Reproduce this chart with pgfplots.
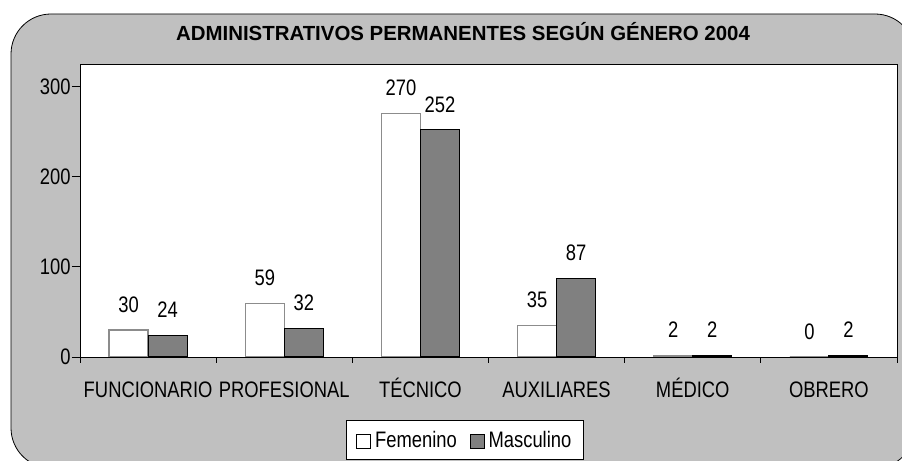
\documentclass[border=0pt]{standalone}
\usepackage{fontspec}
\setmainfont{Liberation Sans}
\newfontfamily\nf{Liberation Sans}[FakeStretch=0.82]
\usepackage{pgfplots}
\pgfplotsset{compat=1.18}
\definecolor{bggray}{HTML}{C0C0C0}
\definecolor{barM}{HTML}{808080}
\definecolor{edgeF}{HTML}{8C8C8C}
\newcommand{\cf}{\nf\fontsize{22.5}{26}\selectfont}
\begin{document}
\begin{tikzpicture}[x=1bp,y=1bp]
\useasboundingbox (0,0) rectangle (902,461);
\clip (0,0) rectangle (902,461);
\draw[black, line width=0.8bp, fill=bggray, rounded corners=40bp] (11,447) rectangle (915,-7);
\node[font=\fontsize{20.5}{24}\selectfont\bfseries, anchor=base] at (463,420) {ADMINISTRATIVOS PERMANENTES SEGÚN GÉNERO 2004};
\begin{axis}[
  at={(80bp,104bp)}, anchor=south west,
  scale only axis, width=817bp, height=293bp,
  axis background/.style={fill=white},
  axis line style={black, line width=0.8bp},
  ymin=0, ymax=325, xmin=-0.5, xmax=5.5,
  ybar=0pt, bar width=39bp,
  ytick={0,100,200,300},
  xtick={0,1,2,3,4,5},
  xticklabels={FUNCIONARIO, PROFESIONAL, TÉCNICO, AUXILIARES, MÉDICO, OBRERO},
  minor xtick={-0.5,0.5,1.5,2.5,3.5,4.5,5.5},
  major x tick style={draw=none},
  minor x tick style={black, line width=0.8bp},
  y tick style={black, line width=0.8bp},
  tick align=outside, tick pos=left,
  major tick length=8bp, minor tick length=6bp,
  /pgf/number format/assume math mode=true,
  tick label style={font=\cf},
  yticklabel style={xshift=2bp},
  xticklabel style={anchor=base, yshift=-33bp},
  nodes near coords,
  every node near coord/.append style={font=\cf, anchor=south, inner sep=0pt, yshift=17bp},
  legend style={draw=black, fill=white, legend columns=2, at={(0.471,-0.283)}, anchor=center,
     font=\cf, inner xsep=10bp, inner ysep=9bp, line width=0.8bp,
     nodes={inner xsep=2bp},
     /tikz/every even column/.append style={column sep=11bp},
     /tikz/every odd column/.append style={column sep=2bp}},
  legend image code/.code={\draw[#1, line width=0.8bp, draw=black] (0bp,-8bp) rectangle (14bp,6bp);},
]
\addplot[fill=white, draw=edgeF, line width=1.2bp] coordinates {(0,30) (1,59) (2,270) (3,35) (4,2) (5,0)};
\addlegendentry{Femenino}
\addplot[fill=barM, draw=black, line width=1bp] coordinates {(0,24) (1,32) (2,252) (3,87) (4,2) (5,2)};
\addlegendentry{Masculino}
\end{axis}
\end{tikzpicture}
\end{document}
